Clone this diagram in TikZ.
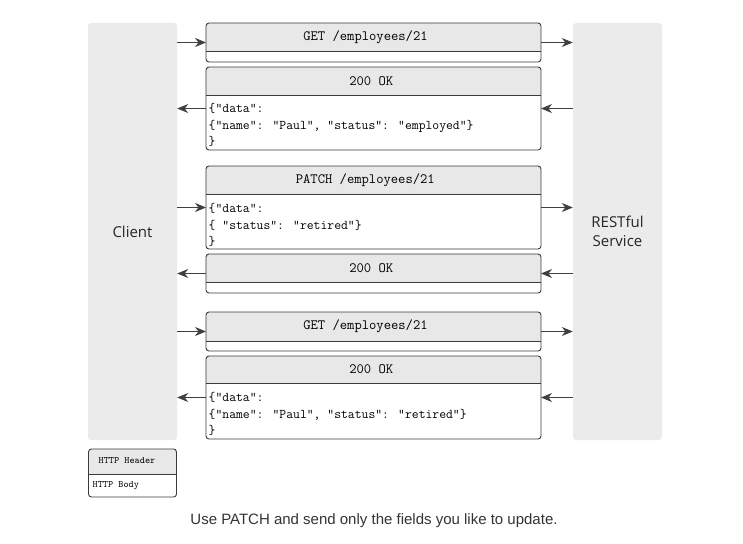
\documentclass[tikz,border=0pt]{standalone}
\usepackage{fontspec}
\newfontfamily\uifont{Open Sans}
\newfontfamily\capfont{Liberation Sans}
\usetikzlibrary{arrows.meta,positioning}
\definecolor{sidegray}{HTML}{EBEBEB}
\definecolor{hdrgray}{HTML}{E8E8E8}
\definecolor{boxline}{HTML}{3A3A3A}
\definecolor{flowline}{HTML}{404040}

\begin{document}
\begin{tikzpicture}[x=1pt, y=-1pt, >={Stealth[length=11pt,width=9pt,inset=3.5pt]},
  side/.style={fill=sidegray, rounded corners=3pt, minimum width=89pt, minimum height=417pt,
    font=\uifont\fontsize{15}{19}\selectfont, text=black!85, align=center},
  msg/.style={inner sep=0pt, outer sep=0pt},
  frame/.style={draw=boxline, line width=0.9pt, rounded corners=3pt},
  hdr/.style={font=\fontsize{14.2}{16}\selectfont\ttfamily},
  body/.style={font=\fontsize{13.3}{16.5}\selectfont\ttfamily, align=left, anchor=west,
    inner sep=0pt, xshift=2.5pt},
  tiny/.style={font=\fontsize{9.8}{11}\selectfont\ttfamily, inner sep=0pt},
  flow/.style={->, draw=flowline, line width=0.8pt}]
  \useasboundingbox (0,0) rectangle (743,543);

  \node[side] (client) at (132.5,231.5) {Client};
  \node[side] (service) at (617.5,231.5) {RESTful\\Service};

  % message boxes: name/top/divider/bottom/header x/header
  \foreach \m/\ya/\yb/\yc/\hx/\txt in {get1/23/51/62/365.5/{GET /employees/21},
      ok1/67/95/150/371.3/{200 OK}, patch/166/194/249/365.3/{PATCH /employees/21},
      ok2/254/282/293/371.3/{200 OK}, get2/312/341/351/365.5/{GET /employees/21},
      ok3/356/383/439/371.3/{200 OK}} {
    \node[msg, minimum width=335pt, minimum height={(\yc-\ya)*1pt}] (\m) at (373.5,{(\ya+\yc)/2}) {};
    \begin{scope}
      \clip[rounded corners=3pt] (\m.north west) rectangle (\m.south east);
      \fill[hdrgray] (\m.north west) rectangle (\m.east |- 0,\yb);
    \end{scope}
    \draw[frame] (\m.north west) rectangle (\m.south east);
    \draw[boxline, line width=0.9pt] (\m.west |- 0,\yb) -- (\m.east |- 0,\yb);
    \node[hdr] (\m-head) at (\hx,{(\ya+\yb)/2}) {\txt};
  }

  \node[body] (ok1-body) at (ok1.west |- 0,125) {\{"data":\\\{"name": "Paul", "status": "employed"\}\\\}};
  \node[body] (patch-body) at (patch.west |- 0,225) {\{"data":\\\{ "status": "retired"\}\\\}};
  \node[body] (ok3-body) at (ok3.west |- 0,414) {\{"data":\\\{"name": "Paul", "status": "retired"\}\\\}};

  \foreach \m in {get1,patch,get2} {
    \draw[flow] (client.east |- \m) -- (\m.west);
    \draw[flow] (\m.east) -- (service.west |- \m);
  }
  \foreach \m in {ok1,ok2,ok3} {
    \draw[flow] (service.west |- \m) -- (\m.east);
    \draw[flow] (\m.west) -- (client.east |- \m);
  }

  % legend
  \node[msg, minimum width=88pt, minimum height=48pt] (legend) at (132.5,473) {};
  \begin{scope}
    \clip[rounded corners=3pt] (legend.north west) rectangle (legend.south east);
    \fill[hdrgray] (legend.north west) rectangle (legend.east |- 0,474);
  \end{scope}
  \draw[frame] (legend.north west) rectangle (legend.south east);
  \draw[boxline, line width=0.9pt] (legend.west |- 0,474) -- (legend.east |- 0,474);
  \node[tiny] (legend-head) at (127,461) {HTTP Header};
  \node[tiny, anchor=west, xshift=4pt] (legend-body) at (legend.west |- 0,486) {HTTP Body};

  \node[font=\capfont\fontsize{15}{18}\selectfont, text=black!80] (caption) at (374,521)
    {Use PATCH and send only the fields you like to update.};
\end{tikzpicture}
\end{document}
